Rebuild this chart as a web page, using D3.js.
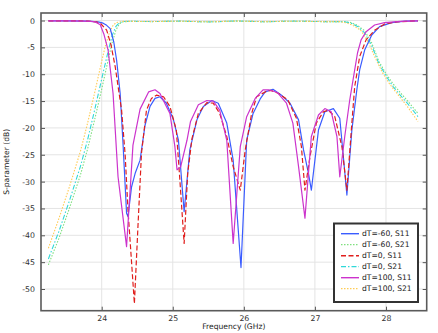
<!DOCTYPE html>
<html>
<head>
<meta charset="utf-8">
<script src="https://cdn.jsdelivr.net/npm/d3@7/dist/d3.min.js"></script>
<style>
  html, body { margin: 0; padding: 0; background: #fff; }
  svg { display: block; font-family: "DejaVu Sans", sans-serif; }
</style>
</head>
<body>
<svg id="chart" width="438" height="333"></svg>
<script>
// Frequency sweep results: S-parameters (dB) for three temperature offsets dT.
const xTicks = [24, 25, 26, 27, 28];
const yTicks = [0, -5, -10, -15, -20, -25, -30, -35, -40, -45, -50];

const freqS11m60 = [23.25, 23.5, 23.8, 23.95, 24.02, 24.07, 24.12, 24.17, 24.21, 24.26, 24.30, 24.35, 24.37, 24.42, 24.47, 24.54, 24.61, 24.68, 24.75, 24.82, 24.91, 25.01, 25.08, 25.16, 25.24, 25.34, 25.43, 25.55, 25.64, 25.76, 25.85, 25.96, 26.04, 26.13, 26.23, 26.30, 26.41, 26.53, 26.65, 26.77, 26.84, 26.91, 26.95, 27.05, 27.14, 27.26, 27.35, 27.45, 27.52, 27.59, 27.63, 27.70, 27.80, 27.91, 28.08, 28.27, 28.45];
const dbS11m60 = [-0.05, -0.05, -0.1, -0.25, -0.5, -0.9, -1.5, -4.0, -7.4, -13.6, -22.9, -35.9, -36.5, -31, -28.5, -26, -19.5, -16, -14.5, -14.2, -15.4, -18.5, -22.3, -35.6, -24.1, -18.5, -16, -14.9, -15.4, -19.1, -26, -46, -22.3, -17.3, -14.6, -13.3, -12.8, -13.9, -15.4, -18.5, -24.1, -28.5, -31.6, -20.4, -17, -16.4, -18.2, -32.5, -20.4, -12.9, -9.2, -5.5, -2.7, -1.15, -0.4, -0.1, -0.05];

const freqS21m60 = [23.25, 23.4, 23.55, 23.7, 23.8, 23.9, 24.0, 24.1, 24.15, 24.2, 24.25, 24.3, 24.4, 24.7, 25.1, 25.5, 25.9, 26.3, 26.7, 27.1, 27.4, 27.5, 27.6, 27.7, 27.8, 27.9, 28.0, 28.1, 28.2, 28.3, 28.45];
const dbS21m60 = [-45.5, -40.5, -34.8, -28.8, -24, -18.5, -12.8, -6.8, -4.0, -1.8, -0.6, -0.25, -0.15, -0.2, -0.12, -0.25, -0.1, -0.22, -0.12, -0.2, -0.2, -0.35, -0.9, -1.9, -4.2, -7.6, -9.9, -11.8, -13.4, -14.9, -17.3];

const freqS11d0 = [23.25, 23.5, 23.8, 23.92, 23.98, 24.07, 24.13, 24.19, 24.28, 24.33, 24.37, 24.46, 24.51, 24.56, 24.63, 24.70, 24.77, 24.87, 24.96, 25.05, 25.10, 25.16, 25.21, 25.27, 25.36, 25.48, 25.57, 25.66, 25.76, 25.85, 25.95, 26.02, 26.11, 26.18, 26.30, 26.38, 26.49, 26.62, 26.74, 26.81, 26.86, 26.93, 27.02, 27.12, 27.19, 27.28, 27.38, 27.45, 27.52, 27.56, 27.63, 27.72, 27.84, 27.98, 28.15, 28.45];
const dbS11d0 = [-0.05, -0.05, -0.1, -0.25, -0.5, -1.8, -4.5, -8.6, -16.7, -25, -35.3, -52.7, -38.4, -24.7, -16.7, -14.5, -13.9, -14.2, -16, -20.4, -29.7, -41.5, -28.5, -22, -17.3, -15.3, -15.4, -17.3, -21.6, -27.2, -31.6, -24.1, -17.3, -14.2, -13.3, -13, -13.6, -14.8, -18.2, -23.5, -31.6, -25.4, -19.1, -17, -16.7, -17.9, -23.5, -31.6, -19.1, -12.3, -6.7, -3.6, -1.8, -0.65, -0.25, -0.05];

const freqS21d0 = [23.25, 23.4, 23.55, 23.7, 23.8, 23.9, 24.0, 24.1, 24.15, 24.2, 24.25, 24.3, 24.4, 24.7, 25.1, 25.5, 25.9, 26.3, 26.7, 27.1, 27.4, 27.5, 27.6, 27.7, 27.8, 27.9, 28.0, 28.1, 28.2, 28.3, 28.45];
const dbS21d0 = [-44.4, -39.2, -33.4, -27.2, -22.3, -16.7, -10.9, -5.2, -2.7, -1.1, -0.4, -0.2, -0.15, -0.2, -0.12, -0.25, -0.1, -0.22, -0.12, -0.2, -0.2, -0.45, -1.1, -2.3, -4.7, -8.0, -10.3, -12.3, -13.9, -15.4, -17.9];

const freqS11d100 = [23.25, 23.5, 23.75, 23.85, 23.91, 23.98, 24.03, 24.09, 24.16, 24.23, 24.35, 24.44, 24.54, 24.66, 24.75, 24.82, 24.91, 24.96, 25.03, 25.06, 25.11, 25.20, 25.25, 25.36, 25.48, 25.57, 25.66, 25.76, 25.85, 25.95, 26.04, 26.16, 26.27, 26.35, 26.47, 26.60, 26.69, 26.77, 26.86, 26.95, 27.05, 27.14, 27.23, 27.31, 27.35, 27.42, 27.49, 27.55, 27.60, 27.65, 27.72, 27.84, 27.98, 28.2, 28.45];
const dbS11d100 = [-0.05, -0.05, -0.1, -0.15, -0.25, -0.8, -2.5, -5.5, -13.6, -29.1, -42.1, -23.2, -16.5, -13.3, -12.9, -13.6, -16, -17.3, -23.5, -27.8, -27.3, -22.3, -18.8, -15.7, -14.9, -15.0, -16.7, -22.3, -41.5, -23.5, -17.9, -14.5, -12.9, -12.9, -13.4, -15.4, -19.1, -27.2, -36.8, -21.6, -17.6, -16.4, -17, -21.6, -29.1, -21.6, -14.8, -10, -6, -3.6, -2.1, -0.84, -0.4, -0.15, -0.05];

const freqS21d100 = [23.25, 23.4, 23.55, 23.7, 23.8, 23.9, 24.0, 24.05, 24.1, 24.15, 24.2, 24.3, 24.7, 25.1, 25.5, 25.9, 26.3, 26.7, 27.1, 27.35, 27.45, 27.55, 27.65, 27.75, 27.85, 27.95, 28.05, 28.15, 28.3, 28.45];
const dbS21d100 = [-42.4, -36.8, -30.8, -24.4, -19.2, -13.5, -7.6, -4.8, -2.6, -1.1, -0.4, -0.15, -0.2, -0.12, -0.25, -0.1, -0.22, -0.12, -0.2, -0.2, -0.45, -1.0, -1.9, -4.0, -7.0, -9.7, -11.8, -13.5, -16.0, -18.8];

const seriesNames = ["dT=-60, S11", "dT=-60, S21", "dT=0, S11", "dT=0, S21", "dT=100, S11", "dT=100, S21"];
const seriesFreq = [freqS11m60, freqS21m60, freqS11d0, freqS21d0, freqS11d100, freqS21d100];
const seriesDb = [dbS11m60, dbS21m60, dbS11d0, dbS21d0, dbS11d100, dbS21d100];

// Line styles per series
const styles = [
  { color: "#3a5cff", width: 1.2, dash: null },
  { color: "#7fe07f", width: 1.1, dash: "1.5,1.5" },
  { color: "#e01e1c", width: 1.2, dash: "5,2.5" },
  { color: "#2fd8d8", width: 1.1, dash: "5,2,1.5,2" },
  { color: "#cc33cc", width: 1.2, dash: null },
  { color: "#ffcc55", width: 1.1, dash: "1.5,1.5" }
];

const svg = d3.select("#chart");
const pLeft = 41, pRight = 426.7, pTop = 13, pBottom = 310.7;

const x = d3.scaleLinear().domain([23.146, 28.573]).range([pLeft, pRight]);
const y = d3.scaleLinear().domain([-54.04, 1.4]).range([pBottom, pTop]);

// plain hyphen-minus for negative tick labels
const fmt = d => String(d);

// grid
const grid = svg.append("g");
grid.selectAll("line.gx").data(xTicks).join("line")
  .attr("x1", d => x(d)).attr("x2", d => x(d))
  .attr("y1", pTop).attr("y2", pBottom)
  .attr("stroke", "#e4e4e4").attr("stroke-width", 1);
grid.selectAll("line.gy").data(yTicks).join("line")
  .attr("y1", d => y(d)).attr("y2", d => y(d))
  .attr("x1", pLeft).attr("x2", pRight)
  .attr("stroke", "#e4e4e4").attr("stroke-width", 1);

// clip
svg.append("clipPath").attr("id", "plotclip")
  .append("rect").attr("x", pLeft).attr("y", pTop)
  .attr("width", pRight - pLeft).attr("height", pBottom - pTop);

const line = d3.line().x(d => x(d[0])).y(d => y(d[1]));
const plot = svg.append("g").attr("clip-path", "url(#plotclip)");

// draw S21 curves first, then S11 curves on top
const order = [1, 3, 5, 0, 2, 4];
order.forEach(i => {
  const pts = d3.zip(seriesFreq[i], seriesDb[i]);
  const p = plot.append("path")
    .attr("d", line(pts))
    .attr("fill", "none")
    .attr("stroke", styles[i].color)
    .attr("stroke-width", styles[i].width)
    .attr("stroke-linejoin", "round");
  if (styles[i].dash) p.attr("stroke-dasharray", styles[i].dash);
});

// axes: ticks inside on all four sides
const axisColor = "#555";
const tickLen = 4;
const axB = svg.append("g").attr("transform", `translate(0,${pBottom})`)
  .call(d3.axisBottom(x).tickValues(xTicks).tickSize(-tickLen).tickPadding(5).tickFormat(fmt));
const axT = svg.append("g").attr("transform", `translate(0,${pTop})`)
  .call(d3.axisTop(x).tickValues(xTicks).tickSize(-tickLen).tickFormat(""));
const axL = svg.append("g").attr("transform", `translate(${pLeft},0)`)
  .call(d3.axisLeft(y).tickValues(yTicks).tickSize(-tickLen).tickPadding(6).tickFormat(fmt));
const axR = svg.append("g").attr("transform", `translate(${pRight},0)`)
  .call(d3.axisRight(y).tickValues(yTicks).tickSize(-tickLen).tickFormat(""));
[axB, axT, axL, axR].forEach(a => {
  a.select(".domain").remove();
  a.selectAll(".tick line").attr("stroke", axisColor).attr("stroke-width", 1);
  a.selectAll(".tick text").attr("fill", "#333").attr("font-size", 7.8)
    .attr("font-family", "DejaVu Sans, sans-serif");
});

// frame
svg.append("rect").attr("x", pLeft).attr("y", pTop)
  .attr("width", pRight - pLeft).attr("height", pBottom - pTop)
  .attr("fill", "none").attr("stroke", "#5a5a5a").attr("stroke-width", 1.6);

// axis titles
svg.append("text").attr("x", (pLeft + pRight) / 2).attr("y", 329)
  .attr("text-anchor", "middle").attr("font-size", 7.6).attr("fill", "#222")
  .text("Frequency (GHz)");
svg.append("text")
  .attr("transform", `translate(9,${(pTop + pBottom) / 2}) rotate(-90)`)
  .attr("text-anchor", "middle").attr("font-size", 7.6).attr("fill", "#222")
  .text("S-parameter (dB)");

// legend
const lg = svg.append("g");
lg.append("rect").attr("x", 334).attr("y", 223.5).attr("width", 84).attr("height", 78.5)
  .attr("fill", "#fff").attr("stroke", "#333").attr("stroke-width", 2);
seriesNames.forEach((name, i) => {
  const yy = 233.7 + i * 11;
  const l = lg.append("line").attr("x1", 341).attr("x2", 359).attr("y1", yy).attr("y2", yy)
    .attr("stroke", styles[i].color).attr("stroke-width", i % 2 === 0 ? 1.4 : 1.2);
  if (styles[i].dash) l.attr("stroke-dasharray", styles[i].dash);
  lg.append("text").attr("x", 362).attr("y", yy).attr("dy", "0.35em")
    .attr("font-size", 7.6).attr("fill", "#222").text(name);
});
</script>
</body>
</html>
